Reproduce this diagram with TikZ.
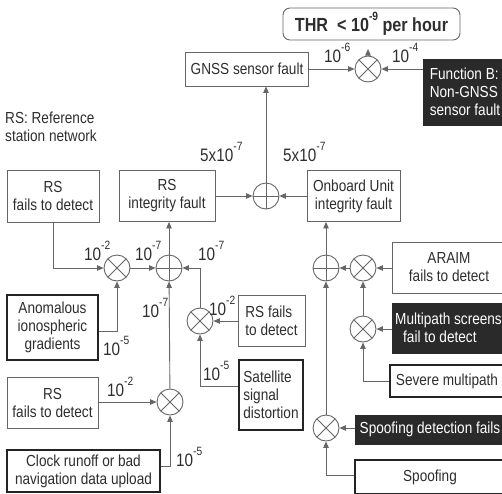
\documentclass[tikz,border=0pt]{standalone}
\usepackage{fontspec}
\setmainfont[FakeStretch=0.85]{Liberation Sans}
\usetikzlibrary{arrows.meta}

\definecolor{linegray}{HTML}{666666}
\definecolor{txt}{HTML}{2E2E2E}
\definecolor{heavyc}{HTML}{242424}
\definecolor{darkfill}{HTML}{2A2A2A}

\newcommand\boxfont{\fontsize{16}{18}\selectfont}
\newcommand\lblfont{\fontsize{18}{20}\selectfont}
\newcommand\thrfont{\fontsize{19}{21}\selectfont\bfseries}
% raised exponent after a "10"
\newcommand\expo[1]{\raisebox{0.58em}{\fontsize{12}{12}\selectfont #1}}

\tikzset{
  box/.style={draw=linegray, line width=0.9pt, fill=white, text=txt,
    align=center, inner sep=2pt, font=\boxfont},
  heavy/.style={box, draw=heavyc, line width=2.8pt},
  dark/.style={box, draw=darkfill, fill=darkfill, text=white},
  junction/.style={circle, draw=linegray, line width=0.9pt, fill=white,
    minimum size=26pt, inner sep=0pt},
  otimes/.style={junction, path picture={
    \draw[linegray, line width=0.9pt]
      ([shift={(45:13pt)}]path picture bounding box.center) --
      ([shift={(225:13pt)}]path picture bounding box.center)
      ([shift={(135:13pt)}]path picture bounding box.center) --
      ([shift={(-45:13pt)}]path picture bounding box.center);}},
  oplus/.style={junction, path picture={
    \draw[linegray, line width=0.9pt]
      (path picture bounding box.north) -- (path picture bounding box.south)
      (path picture bounding box.west) -- (path picture bounding box.east);}},
  conn/.style={draw=linegray, line width=0.9pt},
  arr/.style={conn, -{Triangle[length=6.5pt,width=5.5pt]}},
  lbl/.style={font=\lblfont, text=txt, inner sep=0pt, anchor=base west},
}

\begin{document}
\begin{tikzpicture}[x=1pt, y=-1pt]
\useasboundingbox (0,0) rectangle (502,493);

% ---- top level
\node[box, rounded corners=7pt, minimum width=177pt, minimum height=32pt,
      font=\thrfont] (thr) at (371.5,24) {THR\ \ <\ 10\expo{-9} per hour};
\node[otimes] (o1) at (368,69) {};
\coordinate (thrin) at (368,49);
\node[box, minimum width=123pt, minimum height=34pt] (gnss) at (247,69)
      {GNSS sensor fault};
\node[dark, minimum width=84pt, minimum height=66pt, align=left] (funcb)
      at (465,92) {Function B:\\Non-GNSS\\sensor fault};

\node[font=\boxfont, text=txt, align=left, anchor=north west, inner sep=0pt]
      (legend) at (5,112) {RS: Reference\\station network};

% ---- second level
\node[oplus] (p1) at (266,196) {};
\node[box, minimum width=96pt, minimum height=51pt] (rsint) at (167,196)
      {RS\\integrity fault};
\node[box, minimum width=93pt, minimum height=51pt] (obu) at (353.5,196)
      {Onboard Unit\\integrity fault};

% ---- reference station branch
\node[box, minimum width=92pt, minimum height=52pt] (rsf1) at (53,196)
      {RS\\fails to detect};
\node[otimes] (o2) at (117,268) {};
\node[oplus] (p2) at (169,268) {};
\node[otimes] (o3) at (200,321) {};
\node[box, minimum width=67pt, minimum height=51pt, align=left] (rsf2)
      at (271.5,320.5) {RS fails\\to detect};
\node[heavy, minimum width=64pt, minimum height=70pt, align=left] (sat)
      at (271,395) {Satellite\\signal\\distortion};
\node[heavy, minimum width=91pt, minimum height=65pt] (anom) at (52.5,327.5)
      {Anomalous\\ionospheric\\gradients};
\node[otimes] (o4) at (170,402) {};
\node[box, minimum width=91pt, minimum height=51pt] (rsf3) at (52.5,402.5)
      {RS\\fails to detect};
\node[heavy, minimum width=153pt, minimum height=42pt] (clock) at (83.5,471)
      {Clock runoff or bad\\navigation data upload};

% ---- onboard unit branch
\node[oplus] (p3) at (326,268) {};
\node[otimes] (o5) at (363,268) {};
\node[box, minimum width=114pt, minimum height=51pt] (araim) at (449,267.5)
      {ARAIM\\fails to detect};
\node[otimes] (o6) at (363,329) {};
\node[dark, minimum width=113pt, minimum height=50pt, align=left] (multi)
      at (448.5,328) {Multipath screens\\\hspace{8pt}fail to detect};
\node[heavy, minimum width=114pt, minimum height=32pt] (severe) at (447,381)
      {Severe multipath};
\node[otimes] (o7) at (326,428) {};
\node[dark, minimum width=150pt, minimum height=29pt] (spdf) at (430,429.5)
      {Spoofing detection fails};
\node[heavy, minimum width=150pt, minimum height=34pt] (spoof) at (430,477)
      {Spoofing};

% ---- connectors
\draw[arr] (o1) -- (thrin);
\draw[arr] (gnss.east |- o1) -- (o1);
\draw[arr] (funcb.west |- o1) -- (o1);
\draw[arr] (p1) -- (p1 |- gnss.south);
\draw[arr] (rsint.east |- p1) -- (p1);
\draw[arr] (obu.west |- p1) -- (p1);

\draw[arr] (rsf1.south) |- (o2);
\draw[arr] (o2) -- (p2);
\draw[arr] (p2) -- (p2 |- rsint.south);
\draw[arr] ([yshift=-4pt]anom.east) -| (o2);
\draw[arr] (o3) |- (p2);
\draw[arr] (rsf2.west |- o3) -- (o3);
\draw[arr] ([yshift=9pt]sat.west) -| (o3);
\draw[arr] (o4) -- (p2);
\draw[arr] (rsf3.east |- o4) -- (o4);
\draw[arr] ([yshift=5pt]clock.east) -| (o4);

\draw[arr] (p3) -- (p3 |- obu.south);
\draw[arr] (o5) -- (p3);
\draw[arr] (araim.west |- o5) -- (o5);
\draw[arr] (o6) -- (o5);
\draw[arr] (multi.west |- o6) -- (o6);
\draw[arr] (severe.west) -| (o6);
\draw[arr] (o7) -- (p3);
\draw[arr] (spdf.west |- o7) -- (o7);
\draw[arr] ([yshift=2pt]spoof.west) -| (o7);

% ---- probability labels
\node[lbl] (l1) at (324,62) {10\expo{-6}};
\node[lbl] (l2) at (392,62) {10\expo{-4}};
\node[lbl] (l3) at (200,161) {5x10\expo{-7}};
\node[lbl] (l4) at (283,161) {5x10\expo{-7}};
\node[lbl] (l5) at (84,260) {10\expo{-2}};
\node[lbl] (l6) at (135,260) {10\expo{-7}};
\node[lbl] (l7) at (198,260) {10\expo{-7}};
\node[lbl] (l8) at (142,317) {10\expo{-7}};
\node[lbl] (l9) at (209,315) {10\expo{-2}};
\node[lbl] (l10) at (103,355) {10\expo{-5}};
\node[lbl] (l11) at (203,380) {10\expo{-5}};
\node[lbl] (l12) at (107,396) {10\expo{-2}};
\node[lbl] (l13) at (176,466) {10\expo{-5}};
\end{tikzpicture}
\end{document}
